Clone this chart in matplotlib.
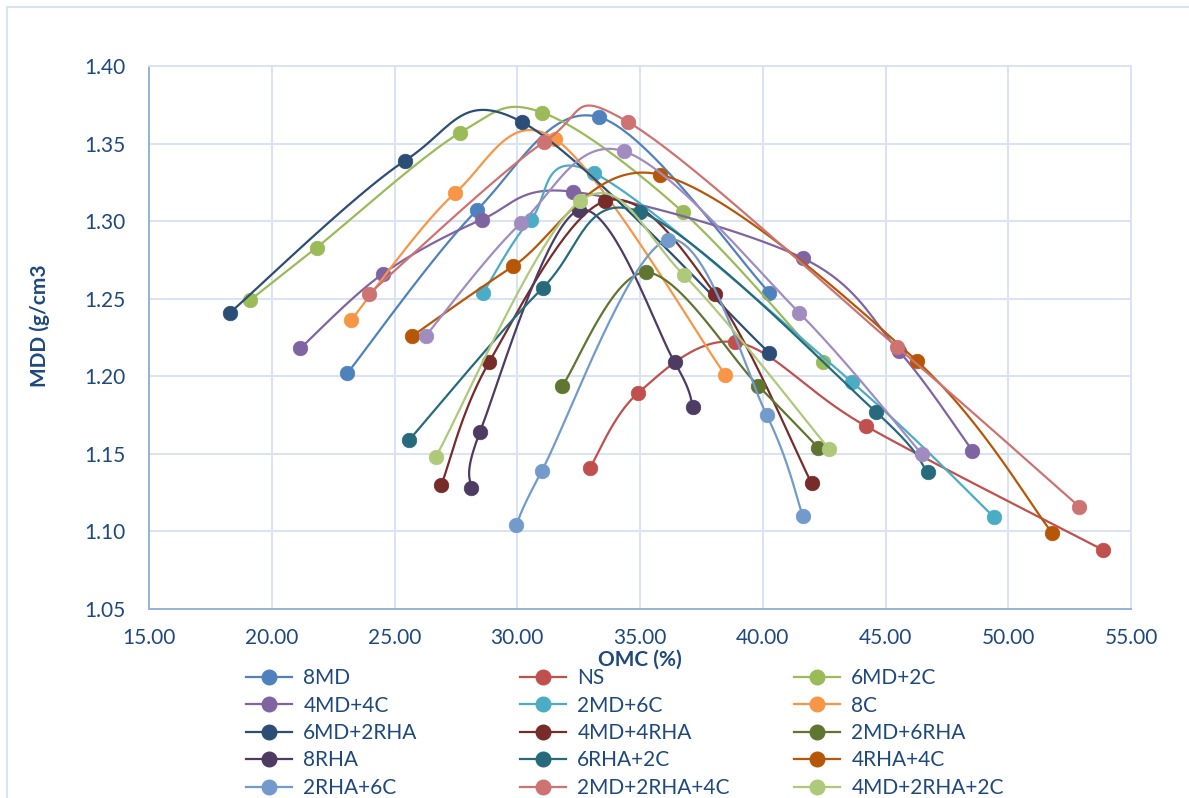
import numpy as np
import matplotlib
matplotlib.use("Agg")
import matplotlib.pyplot as plt
from matplotlib.lines import Line2D

plt.rcParams['font.family'] = ['Lato', 'DejaVu Sans']

# OMC (%) / MDD (g/cm3) pairs for each mix
omc_8md = [23.08, 28.35, 33.34, 40.27]
mdd_8md = [1.202, 1.307, 1.367, 1.254]

omc_ns = [32.96, 34.91, 38.87, 44.19, 53.87]
mdd_ns = [1.141, 1.189, 1.222, 1.168, 1.088]

omc_6md2c = [19.11, 21.83, 27.67, 31.02, 36.74, 42.44]
mdd_6md2c = [1.249, 1.283, 1.357, 1.370, 1.306, 1.209]

omc_4md4c = [21.16, 24.52, 28.55, 32.26, 41.65, 45.56, 48.54]
mdd_4md4c = [1.218, 1.266, 1.301, 1.319, 1.276, 1.216, 1.152]

omc_2md6c = [28.62, 30.55, 33.13, 43.65, 49.43]
mdd_2md6c = [1.254, 1.301, 1.331, 1.196, 1.109]

omc_8c = [23.22, 27.46, 31.54, 38.47]
mdd_8c = [1.236, 1.318, 1.353, 1.201]

omc_6md2rha = [18.30, 25.43, 30.18, 40.27]
mdd_6md2rha = [1.241, 1.339, 1.364, 1.215]

omc_4md4rha = [26.91, 28.85, 33.59, 38.06, 41.99]
mdd_4md4rha = [1.130, 1.209, 1.313, 1.253, 1.131]

omc_2md6rha = [31.84, 35.23, 39.81, 42.26]
mdd_2md6rha = [1.194, 1.267, 1.194, 1.154]

omc_8rha = [28.10, 28.48, 32.50, 36.41, 37.16]
mdd_8rha = [1.128, 1.164, 1.307, 1.209, 1.180]

omc_6rha2c = [25.60, 31.04, 35.01, 44.61, 46.72]
mdd_6rha2c = [1.159, 1.257, 1.306, 1.177, 1.138]

omc_4rha4c = [25.73, 29.84, 35.81, 46.27, 51.79]
mdd_4rha4c = [1.226, 1.271, 1.330, 1.210, 1.099]

omc_2rha6c = [29.96, 31.00, 36.13, 40.16, 41.63]
mdd_2rha6c = [1.104, 1.139, 1.288, 1.175, 1.110]

omc_2md2rha4c = [23.95, 31.09, 34.50, 45.46, 52.89]
mdd_2md2rha4c = [1.253, 1.351, 1.364, 1.219, 1.116]

omc_4md2rha2c = [26.68, 32.56, 36.80, 42.71]
mdd_4md2rha2c = [1.148, 1.313, 1.265, 1.153]

# extra series whose legend entry sits below the visible area
omc_extra = [26.27, 30.17, 34.35, 41.48, 46.47]
mdd_extra = [1.226, 1.299, 1.345, 1.241, 1.150]

names = ['8MD', 'NS', '6MD+2C', '4MD+4C', '2MD+6C', '8C', '6MD+2RHA',
         '4MD+4RHA', '2MD+6RHA', '8RHA', '6RHA+2C', '4RHA+4C', '2RHA+6C',
         '2MD+2RHA+4C', '4MD+2RHA+2C', None]
omc = [omc_8md, omc_ns, omc_6md2c, omc_4md4c, omc_2md6c, omc_8c, omc_6md2rha,
       omc_4md4rha, omc_2md6rha, omc_8rha, omc_6rha2c, omc_4rha4c, omc_2rha6c,
       omc_2md2rha4c, omc_4md2rha2c, omc_extra]
mdd = [mdd_8md, mdd_ns, mdd_6md2c, mdd_4md4c, mdd_2md6c, mdd_8c, mdd_6md2rha,
       mdd_4md4rha, mdd_2md6rha, mdd_8rha, mdd_6rha2c, mdd_4rha4c, mdd_2rha6c,
       mdd_2md2rha4c, mdd_4md2rha2c, mdd_extra]
colors = ['#4F81BD', '#C0504D', '#9BBB59', '#8064A2', '#4BACC6', '#F79646',
          '#2C4D75', '#772C2A', '#5F7530', '#4D3B62', '#276A7C', '#B65708',
          '#729ACA', '#CD7371', '#AFC97A', '#A08CBF']

NAVY = '#1F497D'
GRID = '#D9E3F3'


def smooth(xs, ys, steps=40):
    # Bezier smoothing through every point, like a spreadsheet "smoothed line"
    p = np.column_stack([xs, ys]).astype(float)
    out = [p[0]]
    t = np.linspace(0, 1, steps)[1:, None]
    for i in range(len(p) - 1):
        p0 = p[i - 1] if i > 0 else p[i]
        p1, p2 = p[i], p[i + 1]
        p3 = p[i + 2] if i + 2 < len(p) else p[i + 1]
        c1 = p1 + (p2 - p0) / 6
        c2 = p2 - (p3 - p1) / 6
        seg = ((1 - t) ** 3 * p1 + 3 * (1 - t) ** 2 * t * c1
               + 3 * (1 - t) * t ** 2 * c2 + t ** 3 * p2)
        out.extend(seg)
    out = np.array(out)
    return out[:, 0], out[:, 1]


W, H = 1189, 798
fig = plt.figure(figsize=(W / 100, H / 100), dpi=100)
ax = fig.add_axes([149 / W, 1 - 609 / H, (1131 - 149) / W, (609 - 66) / H])

handles = []
for name, x, y, c in zip(names, omc, mdd, colors):
    sx, sy = smooth(x, y)
    ax.plot(sx, sy, color=c, lw=1.6, solid_capstyle='round')
    ax.plot(x, y, ls='none', marker='o', ms=10.5, color=c, mec=c, mew=0.5)
    if name:
        handles.append(Line2D([], [], color=c, lw=1.6, marker='o', ms=10.5,
                              mec=c, label=name))

ax.set_xlim(15, 55)
ax.set_ylim(1.05, 1.40)
ax.set_xticks(np.arange(15, 55.1, 5))
ax.set_yticks(np.arange(1.05, 1.401, 0.05))
ax.xaxis.set_major_formatter(matplotlib.ticker.FormatStrFormatter('%.2f'))
ax.yaxis.set_major_formatter(matplotlib.ticker.FormatStrFormatter('%.2f'))
ax.tick_params(length=0, labelsize=15, labelcolor=NAVY)
ax.tick_params(axis='y', pad=17)
ax.tick_params(axis='x', pad=14)
ax.grid(True, color=GRID, lw=1.4)
ax.set_axisbelow(True)
for s in ['top', 'right']:
    ax.spines[s].set_color(GRID)
    ax.spines[s].set_linewidth(1.4)
for s in ['left', 'bottom']:
    ax.spines[s].set_color('#95B3D7')
    ax.spines[s].set_linewidth(1.4)

fig.text(640 / W, 1 - 660 / H, 'OMC (%)', ha='center', va='center',
         fontsize=15, fontweight='bold', color=NAVY)
fig.text(40 / W, 1 - 326 / H, 'MDD (g/cm3', ha='center', va='center',
         rotation=90, fontsize=15, fontweight='bold', color=NAVY)

# three legend columns, filled row by row
for k, x0 in enumerate([246, 520, 794]):
    fig.legend(handles=handles[k::3], loc='upper left',
               bbox_to_anchor=(x0 / W, 1 - 668 / H), frameon=False,
               fontsize=15, labelcolor=NAVY, handlelength=2.2,
               handletextpad=0.55, labelspacing=0.36, borderpad=0,
               borderaxespad=0)

# chart area outline (left and top edges)
fig.add_artist(Line2D([7 / W, 7 / W], [0, 1 - 7 / H], color=GRID, lw=1.5))
fig.add_artist(Line2D([7 / W, 1], [1 - 7 / H, 1 - 7 / H], color=GRID, lw=1.5))

fig.savefig('out.png', dpi=100)
